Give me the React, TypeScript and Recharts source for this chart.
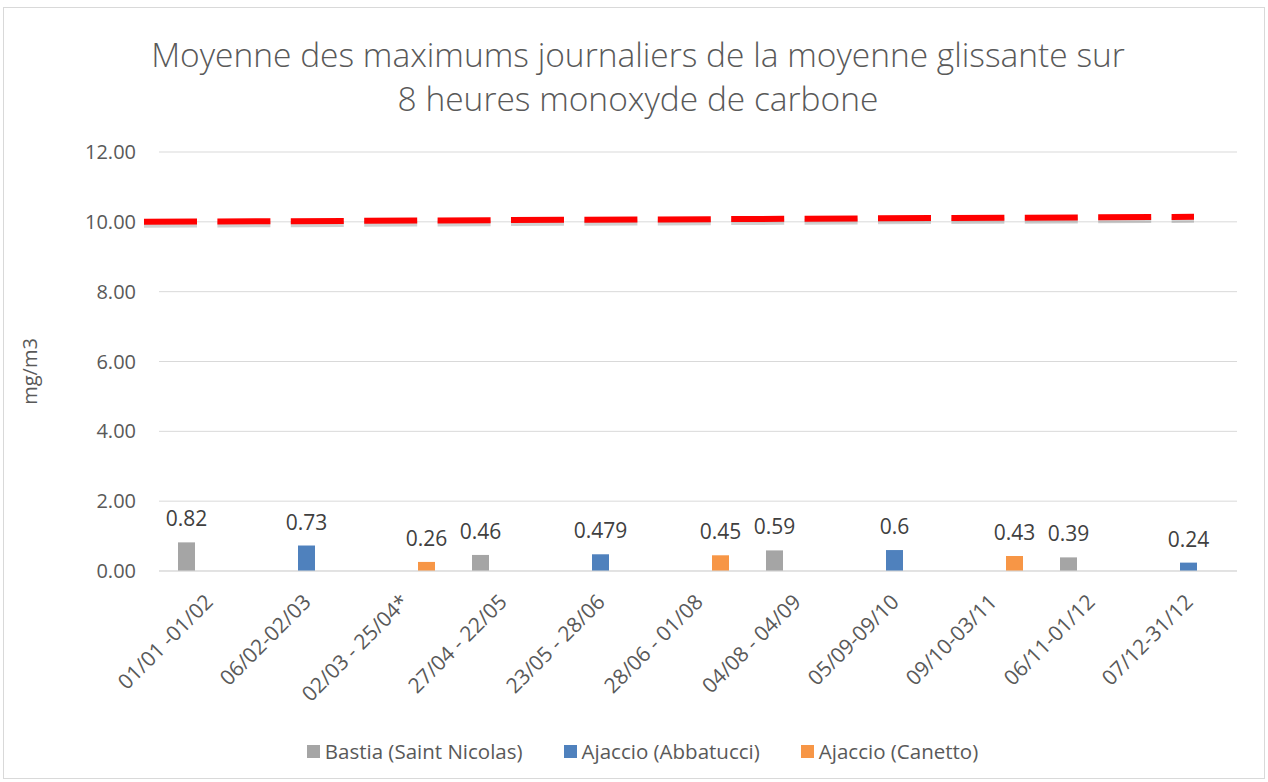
import React from 'react';
import { Bar, ComposedChart, CartesianGrid, LabelList, Legend, ReferenceLine, XAxis, YAxis } from 'recharts';

const categories = [
  '01/01 -01/02',
  '06/02-02/03',
  '02/03 - 25/04*',
  '27/04 - 22/05',
  '23/05 - 28/06',
  '28/06 - 01/08',
  '04/08 - 04/09',
  '05/09-09/10',
  '09/10-03/11',
  '06/11-01/12',
  '07/12-31/12',
];

const bastia = [0.82, null, null, 0.46, null, null, 0.59, null, null, 0.39, null];
const abbatucci = [null, 0.73, null, null, 0.479, null, null, 0.6, null, null, 0.24];
const canetto = [null, null, 0.26, null, null, 0.45, null, null, 0.43, null, null];

const yTicks = [0, 2, 4, 6, 8, 10, 12];
const limitValue = 10;

const series = [
  { key: 'bastia', name: 'Bastia (Saint Nicolas)', color: '#A5A5A5' },
  { key: 'abbatucci', name: 'Ajaccio (Abbatucci)', color: '#4F81BD' },
  { key: 'canetto', name: 'Ajaccio (Canetto)', color: '#F79646' },
];

const data = categories.map((name, i) => ({
  name,
  bastia: bastia[i],
  abbatucci: abbatucci[i],
  canetto: canetto[i],
}));

const FONT = '"Open Sans", sans-serif';
const TEXT = '#595959';

function ValueLabel(props: any) {
  const { x, y, width, value } = props;
  if (value === null || value === undefined) return null;
  return (
    <text x={x + width / 2} y={y - 16} textAnchor="middle" fill="#404040" fontSize={21} fontFamily={FONT}>
      {value}
    </text>
  );
}

function XTick(props: any) {
  const { x, y, payload } = props;
  return (
    <g transform={`translate(${x + 2},${y + 20})`}>
      <text x={0} y={0} dy={6} textAnchor="end" transform="rotate(-45)" fill={TEXT} fontSize={21} fontFamily={FONT}>
        {payload.value}
      </text>
    </g>
  );
}

// dashed limit line drawn a bit wider than the plot, like the hand-drawn shape in the original
function LimitLine(props: any) {
  const { x1, y1, x2 } = props;
  const sx = x1 - 15;
  const ex = x2 - 43;
  return (
    <g>
      <line x1={sx} y1={y1 + 3} x2={ex} y2={y1 - 2} stroke="rgba(0,0,0,0.18)" strokeWidth={6} strokeDasharray="53 20.4" />
      <line x1={sx} y1={y1} x2={ex} y2={y1 - 5} stroke="#FF0000" strokeWidth={6} strokeDasharray="53 20.4" />
    </g>
  );
}

function LegendContent() {
  return (
    <div
      style={{
        display: 'flex',
        justifyContent: 'center',
        gap: 41,
        marginLeft: 44,
        fontFamily: FONT,
        fontSize: 20.5,
        lineHeight: '28px',
        color: TEXT,
      }}
    >
      {series.map((s) => (
        <span key={s.key} style={{ display: 'inline-flex', alignItems: 'center' }}>
          <span style={{ width: 13, height: 13, background: s.color, display: 'inline-block', marginRight: 5 }} />
          {s.name}
        </span>
      ))}
    </div>
  );
}

export default function App() {
  return (
    <div
      style={{
        position: 'absolute',
        left: 3,
        top: 7,
        width: 1262,
        height: 772,
        border: '1px solid #d9d9d9',
        background: '#fff',
        boxSizing: 'border-box',
      }}
    >
      <div
        style={{
          position: 'absolute',
          top: 24,
          left: 4,
          width: '100%',
          textAlign: 'center',
          fontFamily: FONT,
          fontWeight: 300,
          fontSize: 33.5,
          lineHeight: '44px',
          color: TEXT,
        }}
      >
        Moyenne des maximums journaliers de la moyenne glissante sur
        <br />8 heures monoxyde de carbone
      </div>
      <ComposedChart width={1260} height={770} data={data} margin={{ top: 144, right: 27, left: 0, bottom: 13 }} barSize={17} barGap={5}>
        <CartesianGrid vertical={false} stroke="#d9d9d9" />
        <XAxis dataKey="name" tick={<XTick />} tickLine={false} axisLine={{ stroke: '#d9d9d9' }} interval={0} height={166} />
        <YAxis
          domain={[0, 12]}
          ticks={yTicks}
          width={155}
          tickFormatter={(v) => Number(v).toFixed(2)}
          tick={{ fill: TEXT, fontSize: 20, fontFamily: FONT }}
          tickLine={false}
          axisLine={false}
          tickMargin={17}
          label={{ value: 'mg/m3', angle: -90, position: 'insideLeft', offset: 26, dy: 10, style: { textAnchor: 'middle', fill: TEXT, fontSize: 20, fontFamily: FONT } }}
        />
        <Legend verticalAlign="bottom" content={<LegendContent />} />
        {series.map((s) => (
          <Bar key={s.key} dataKey={s.key} name={s.name} fill={s.color} isAnimationActive={false}>
            <LabelList dataKey={s.key} content={<ValueLabel />} />
          </Bar>
        ))}
        <ReferenceLine y={limitValue} shape={<LimitLine />} />
      </ComposedChart>
    </div>
  );
}
